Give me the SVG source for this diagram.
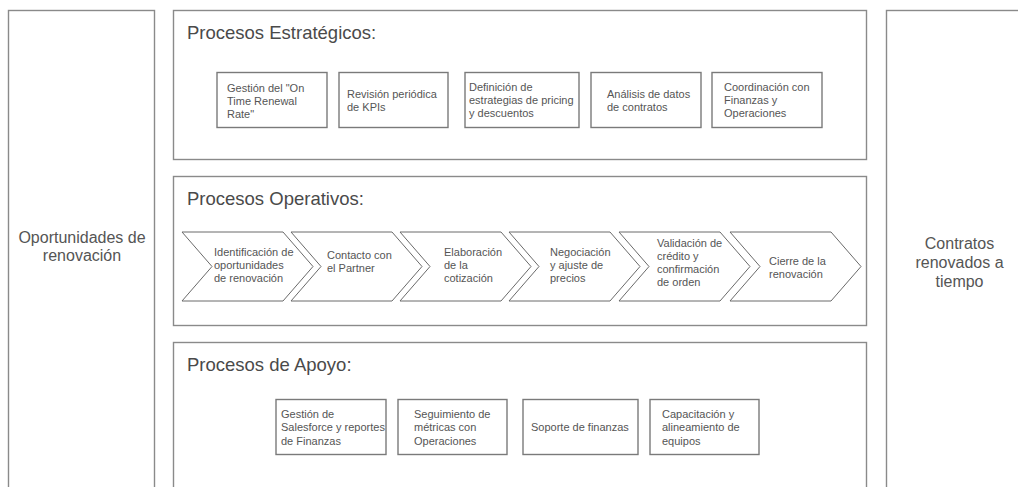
<svg xmlns="http://www.w3.org/2000/svg" width="1018" height="487" viewBox="0 0 1018 487">
<style>
.frame{fill:#fff;stroke:#8a8a8a;stroke-width:1.4}
.box{fill:#fff;stroke:#7a7a7a;stroke-width:1.4}
.chev{fill:#fff;stroke:#6a6a6a;stroke-width:1}
.t{font-family:"Liberation Sans",Arial,sans-serif;font-size:11px;fill:#555}
.h{font-family:"Liberation Sans",Arial,sans-serif;font-size:18.5px;fill:#4a4a4a}
.side{font-family:"Liberation Sans",Arial,sans-serif;font-size:16px;fill:#555;text-anchor:middle}
</style>
<rect width="1018" height="487" fill="#fff"/>
<g id="entrada">
<rect class="frame" x="8.5" y="10.5" width="146" height="490"/>
<text class="side"><tspan x="82" y="243">Oportunidades de</tspan><tspan x="82" y="261">renovación</tspan></text>
</g>
<g id="salida">
<rect class="frame" x="886.5" y="10.5" width="150" height="490"/>
<text class="side"><tspan x="959.5" y="249">Contratos</tspan><tspan x="959.5" y="268">renovados a</tspan><tspan x="959.5" y="287">tiempo</tspan></text>
</g>
<g id="estrategicos">
<rect class="frame" x="173.5" y="10.5" width="693" height="149"/>
<text class="h" x="187" y="39">Procesos Estratégicos:</text>
</g>
<g id="e1"><rect class="box" x="217" y="72.5" width="110" height="55"/><text class="t"><tspan x="227" y="92">Gestión del "On</tspan><tspan x="227" y="105">Time Renewal</tspan><tspan x="227" y="118">Rate"</tspan></text></g>
<g id="e2"><rect class="box" x="339" y="72.5" width="109" height="55"/><text class="t"><tspan x="347" y="98">Revisión periódica</tspan><tspan x="347" y="111">de KPIs</tspan></text></g>
<g id="e3"><rect class="box" x="465" y="72.5" width="114" height="55"/><text class="t"><tspan x="469" y="91">Definición de</tspan><tspan x="469" y="104">estrategias de pricing</tspan><tspan x="469" y="117">y descuentos</tspan></text></g>
<g id="e4"><rect class="box" x="591" y="72.5" width="110" height="55"/><text class="t"><tspan x="607" y="98">Análisis de datos</tspan><tspan x="607" y="111">de contratos</tspan></text></g>
<g id="e5"><rect class="box" x="712" y="72.5" width="110" height="55"/><text class="t"><tspan x="724" y="91">Coordinación con</tspan><tspan x="724" y="104">Finanzas y</tspan><tspan x="724" y="117">Operaciones</tspan></text></g>
<g id="operativos">
<rect class="frame" x="173.5" y="176.5" width="693" height="149"/>
<text class="h" x="187" y="205">Procesos Operativos:</text>
</g>
<g id="o1"><path class="chev" d="M182,232 L283,232 L313,266.5 L283,301 L182,301 L212,266.5 Z"/><text class="t"><tspan x="214" y="256">Identificación de</tspan><tspan x="214" y="269">oportunidades</tspan><tspan x="214" y="282">de renovación</tspan></text></g>
<g id="o2"><path class="chev" d="M291,232 L392,232 L422,266.5 L392,301 L291,301 L321,266.5 Z"/><text class="t"><tspan x="327" y="259">Contacto con</tspan><tspan x="327" y="272">el Partner</tspan></text></g>
<g id="o3"><path class="chev" d="M400,232 L501,232 L531,266.5 L501,301 L400,301 L430,266.5 Z"/><text class="t"><tspan x="444" y="256">Elaboración</tspan><tspan x="444" y="269">de la</tspan><tspan x="444" y="282">cotización</tspan></text></g>
<g id="o4"><path class="chev" d="M509,232 L610,232 L640,266.5 L610,301 L509,301 L539,266.5 Z"/><text class="t"><tspan x="550" y="256">Negociación</tspan><tspan x="550" y="269">y ajuste de</tspan><tspan x="550" y="282">precios</tspan></text></g>
<g id="o5"><path class="chev" d="M619,232 L720,232 L750,266.5 L720,301 L619,301 L649,266.5 Z"/><text class="t"><tspan x="657" y="247">Validación de</tspan><tspan x="657" y="260">crédito y</tspan><tspan x="657" y="273">confirmación</tspan><tspan x="657" y="286">de orden</tspan></text></g>
<g id="o6"><path class="chev" d="M730,232 L831,232 L861,266.5 L831,301 L730,301 L760,266.5 Z"/><text class="t"><tspan x="769" y="265">Cierre de la</tspan><tspan x="769" y="278">renovación</tspan></text></g>
<g id="apoyo">
<rect class="frame" x="173.5" y="342.5" width="693" height="160"/>
<text class="h" x="187" y="371">Procesos de Apoyo:</text>
</g>
<g id="a1"><rect class="box" x="276" y="399.5" width="110" height="55"/><text class="t"><tspan x="281" y="418">Gestión de</tspan><tspan x="281" y="431">Salesforce y reportes</tspan><tspan x="281" y="445">de Finanzas</tspan></text></g>
<g id="a2"><rect class="box" x="398" y="399.5" width="109" height="55"/><text class="t"><tspan x="414" y="418">Seguimiento de</tspan><tspan x="414" y="431">métricas con</tspan><tspan x="414" y="445">Operaciones</tspan></text></g>
<g id="a3"><rect class="box" x="523" y="399.5" width="115" height="55"/><text class="t"><tspan x="531" y="431">Soporte de finanzas</tspan></text></g>
<g id="a4"><rect class="box" x="650" y="399.5" width="109" height="55"/><text class="t"><tspan x="662" y="418">Capacitación y</tspan><tspan x="662" y="431">alineamiento de</tspan><tspan x="662" y="445">equipos</tspan></text></g>
<g id="connectors"></g>
</svg>
